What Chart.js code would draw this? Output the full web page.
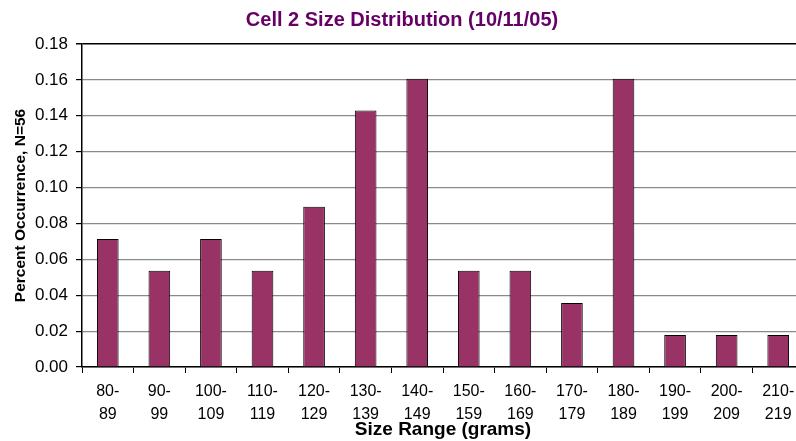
<!DOCTYPE html>
<html>
<head>
<meta charset="utf-8">
<script src="https://cdn.jsdelivr.net/npm/chart.js@4"></script>
<style>
    html, body { margin: 0; padding: 0; background: #fff; overflow: hidden; }
    #wrap { position: relative; width: 804px; height: 441px; }
</style>
</head>
<body>
<div id="wrap"><canvas id="sizeChart"></canvas></div>
<script>
const sizeRanges = [
    ['80-', '89'], ['90-', '99'], ['100-', '109'], ['110-', '119'], ['120-', '129'],
    ['130-', '139'], ['140-', '149'], ['150-', '159'], ['160-', '169'], ['170-', '179'],
    ['180-', '189'], ['190-', '199'], ['200-', '209'], ['210-', '219']
];
// fraction of the 56 fish in each range
const occurrence = [0.0714, 0.0536, 0.0714, 0.0536, 0.0893, 0.1429, 0.1607,
    0.0536, 0.0536, 0.0357, 0.1607, 0.0179, 0.0179, 0.0179];
const yTicks = [0, 0.02, 0.04, 0.06, 0.08, 0.10, 0.12, 0.14, 0.16, 0.18];

const FONT = "Arial, 'Liberation Sans', sans-serif";

const sizeChart = new Chart(document.getElementById('sizeChart').getContext('2d'), {
    type: 'bar',
    data: {
        labels: sizeRanges,
        datasets: [{
            data: occurrence,
            backgroundColor: '#993366', borderColor: '#000', borderWidth: 1,
            barPercentage: 0.42, categoryPercentage: 1
        }]
    },
    options: {
        animation: false, responsive: true, maintainAspectRatio: false,
        layout: { padding: 0 },
        plugins: {
            legend: { display: false },
            tooltip: { enabled: false },
            title: {
                display: true, text: 'Cell 2 Size Distribution (10/11/05)', color: '#660066',
                font: { family: FONT, size: 20, weight: 'bold' },
                padding: { top: 8, bottom: 12 }
            }
        },
        scales: {
            x: {
                offset: true,
                border: { color: '#000', width: 1.5 },
                grid: { offset: true, drawOnChartArea: false, tickLength: 6, tickColor: '#000', lineWidth: 1 },
                ticks: { color: '#000', font: { family: FONT, size: 16, lineHeight: 1.45 }, padding: 7, maxRotation: 0, autoSkip: false },
                title: {
                    display: true, text: 'Size Range (grams)', color: '#000',
                    font: { family: FONT, size: 19, weight: 'bold' }, padding: { top: 0, bottom: 0 }
                },
                afterFit: s => { s.height = 74; }
            },
            y: {
                min: 0, max: 0.18,
                afterBuildTicks: s => { s.ticks = yTicks.map(v => ({ value: v })); },
                border: { color: '#000', width: 1.5 },
                grid: {
                    color: c => c.tick && c.tick.value >= 0.179 ? '#000' : '#8a8a8a',
                    lineWidth: c => c.tick && c.tick.value >= 0.179 ? 1.5 : 1.2,
                    tickLength: 6, tickColor: '#000'
                },
                ticks: { color: '#000', font: { family: FONT, size: 17 }, padding: 8, callback: v => v.toFixed(2) },
                title: {
                    display: true, text: 'Percent Occurrence, N=56', color: '#000',
                    font: { family: FONT, size: 15.5, weight: 'bold' }, padding: { top: 11, bottom: 0 }
                },
                afterFit: s => { s.width = 82; }
            }
        }
    }
});
</script>
</body>
</html>
